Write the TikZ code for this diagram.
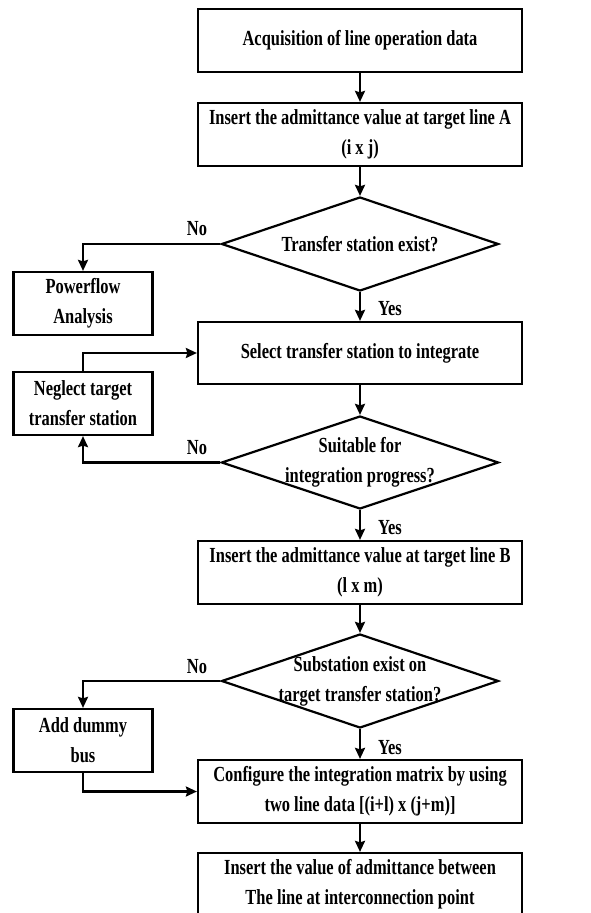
\documentclass[tikz,border=0pt]{standalone}
\usepackage{fontspec}
\setmainfont{Liberation Serif}[FakeStretch=0.765]
\usetikzlibrary{shapes.geometric,arrows.meta}
\newcommand\lbl{\bfseries\fontsize{21.5}{30}\selectfont}
\begin{document}
\begin{tikzpicture}[x=1pt,y=-1pt,
  box/.style={draw, line width=2.2pt, minimum width=324pt, minimum height=63pt, inner sep=0pt, align=center, font=\lbl},
  sbox/.style={box, minimum width=139pt},
  dia/.style={draw, diamond, line width=2.2pt, minimum width=277pt, minimum height=94pt, inner sep=0pt},
  lab/.style={font=\lbl, inner sep=0pt, align=center},
  arr/.style={line width=2.2pt, -{Stealth[length=11pt,width=10pt,inset=1.5pt]}}]
\useasboundingbox (0,0) rectangle (590,913);
% main column
\node[box] (b1) at (360,40.5) {Acquisition of line operation data};
\node[box] (b2) at (360,134.5) {Insert the admittance value at target line A\\(i x j)};
\node[dia] (d1) at (360,244) {};
\node[lab] (t1) at (d1) {Transfer station exist?};
\node[box, minimum height=62pt] (b3) at (360,353) {Select transfer station to integrate};
\node[dia, minimum height=93pt] (d2) at (360,462.5) {};
\node[lab] (t2) at (d2) {Suitable for\\integration progress?};
\node[box] (b4) at (360,572.5) {Insert the admittance value at target line B\\(l x m)};
\node[dia] (d3) at (360,681) {};
\node[lab] (t3) at (d3) {Substation exist on\\target transfer station?};
\node[box] (b5) at (360,791.5) {Configure the integration matrix by using\\two line data [(i+l) x (j+m)]};
\node[box] (b6) at (360,884.5) {Insert the value of admittance between\\The line at interconnection point};
% side boxes
\node[sbox] (pf) at (83,303.5) {Powerflow\\Analysis};
\node[sbox] (ng) at (83,403.5) {Neglect target\\transfer station};
\node[sbox] (ad) at (83,740.5) {Add dummy\\bus};
% labels
\node[lab] (no1) at (197,229) {No};
\node[lab] (no2) at (197,448) {No};
\node[lab] (no3) at (197,667) {No};
\node[lab] (y1) at (390,309) {Yes};
\node[lab] (y2) at (390,528) {Yes};
\node[lab] (y3) at (390,748) {Yes};
% connectors
\draw[arr] (b1.south) -- (b2.north);
\draw[arr] (b2.south) -- (d1.north);
\draw[arr] (d1.south) -- (b3.north);
\draw[arr] (d1.west) -| (pf.north);
\draw[arr] (b3.south) -- (d2.north);
\draw[arr] (d2.west) -| (ng.south);
\draw[arr] (ng.north) |- (b3.west);
\draw[arr] (d2.south) -- (b4.north);
\draw[arr] (b4.south) -- (d3.north);
\draw[arr] (d3.west) -| (ad.north);
\draw[arr] (d3.south) -- (b5.north);
\draw[arr] (ad.south) |- (b5.west);
\draw[arr] (b5.south) -- (b6.north);
\end{tikzpicture}
\end{document}
